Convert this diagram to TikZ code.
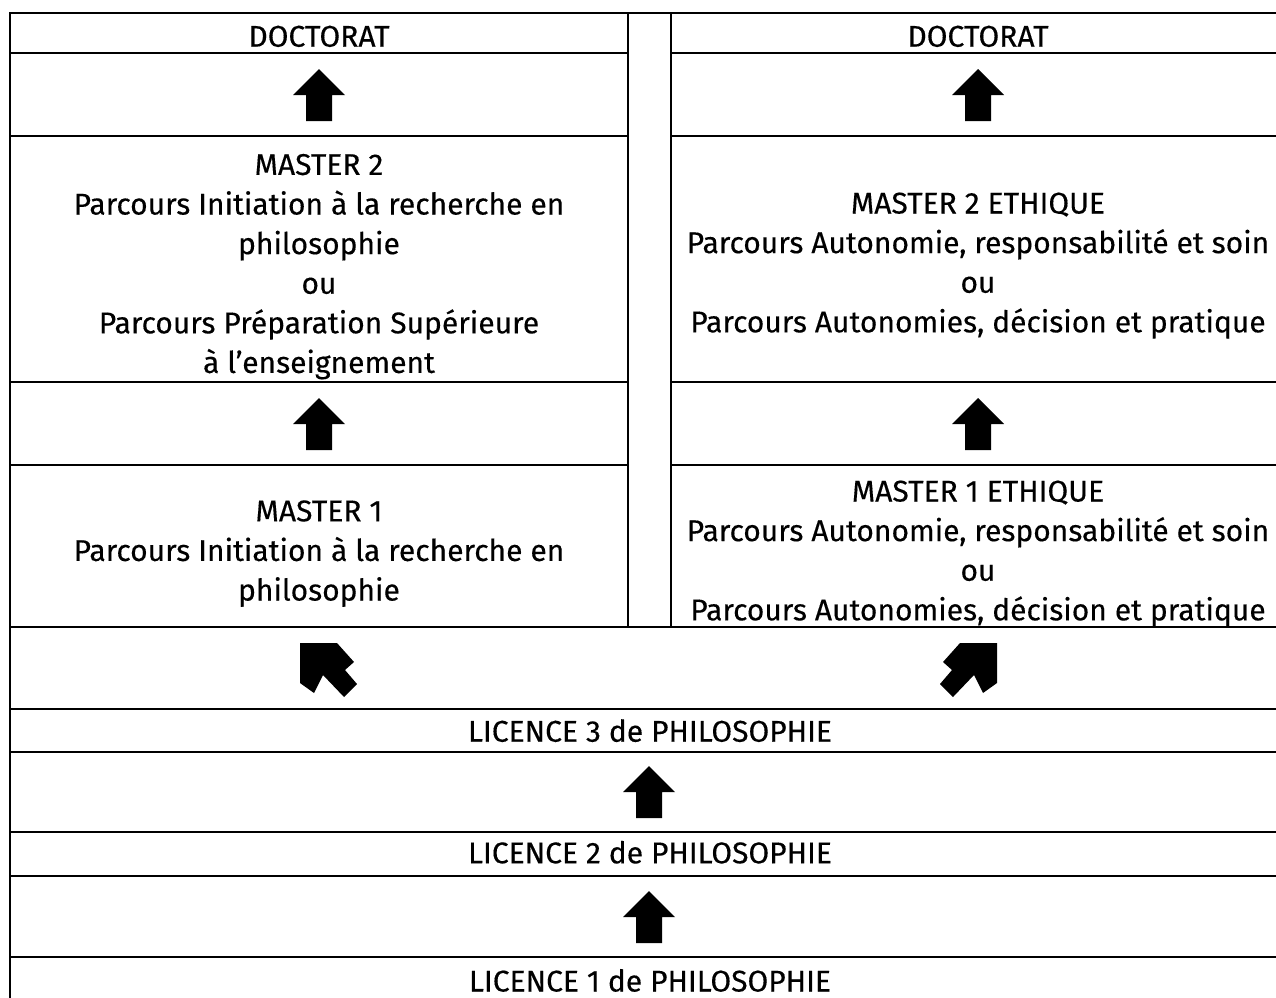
\documentclass[tikz,border=0pt]{standalone}
\usepackage{fontspec}
\setmainfont{Fira Sans}[FakeBold=0.3]
\begin{document}
\begin{tikzpicture}[x=1pt,y=-1pt,
  grid/.style={line width=1.8pt, line cap=rect},
  lbl/.style={align=center, inner sep=0pt, font=\fontsize{30}{39.6}\selectfont},
  uparr/.pic={\fill[black] (0,-26) -- (26,0) -- (13,0) -- (13,26) -- (-13,26) -- (-13,0) -- (-26,0) -- cycle;}]
\useasboundingbox (0,0) rectangle (1276,997);
% grid
\draw[grid] (10,1010) -- (10,13) -- (1300,13);
\draw[grid] (628,13) -- (628,627);
\draw[grid] (671,13) -- (671,627);
\draw[grid] (1287,13) -- (1287,1010);
\foreach \yy in {53,136,382,465}{
  \draw[grid] (10,\yy) -- (628,\yy);
  \draw[grid] (671,\yy) -- (1300,\yy);
}
\foreach \yy in {627,709,752,832,876,957}{
  \draw[grid] (10,\yy) -- (1300,\yy);
}
% texts
\node[lbl, anchor=base] (docL) at (319,46.7) {DOCTORAT};
\node[lbl, anchor=base] (docR) at (978,46.7) {DOCTORAT};
\node[lbl] (m2L) at (319,266) {\strut MASTER 2\\\strut Parcours Initiation à la recherche en\\\strut philosophie\\\strut ou\\\strut Parcours Préparation Supérieure\\\strut à l’enseignement};
\node[lbl] (m2R) at (978,265) {\strut MASTER 2 ETHIQUE\\\strut Parcours Autonomie, responsabilité et soin\\\strut ou\\\strut Parcours Autonomies, décision et pratique};
\node[lbl] (m1L) at (319,553) {\strut MASTER 1\\\strut Parcours Initiation à la recherche en\\\strut philosophie};
\node[lbl] (m1R) at (978,553) {\strut MASTER 1 ETHIQUE\\\strut Parcours Autonomie, responsabilité et soin\\\strut ou\\\strut Parcours Autonomies, décision et pratique};
\node[lbl, anchor=base] (l3) at (650,741.7) {LICENCE 3 de PHILOSOPHIE};
\node[lbl, anchor=base] (l2) at (650,863.3) {LICENCE 2 de PHILOSOPHIE};
\node[lbl, anchor=base] (l1) at (650,991.5) {LICENCE 1 de PHILOSOPHIE};
% arrows
\pic at (319,95) {uparr};
\pic at (978,95) {uparr};
\pic at (319,424) {uparr};
\pic at (978,424) {uparr};
\pic at (649,792) {uparr};
\pic at (649,917) {uparr};
\fill[black] (300,643) -- (337,643) -- (354,662) -- (345,670) -- (357,684) -- (344,697) -- (323,675) -- (314,693) -- (300,683) -- cycle;
\fill[black] (997,643) -- (960,643) -- (943,662) -- (952,670) -- (940,684) -- (953,697) -- (974,675) -- (983,693) -- (997,683) -- cycle;
\end{tikzpicture}
\end{document}
